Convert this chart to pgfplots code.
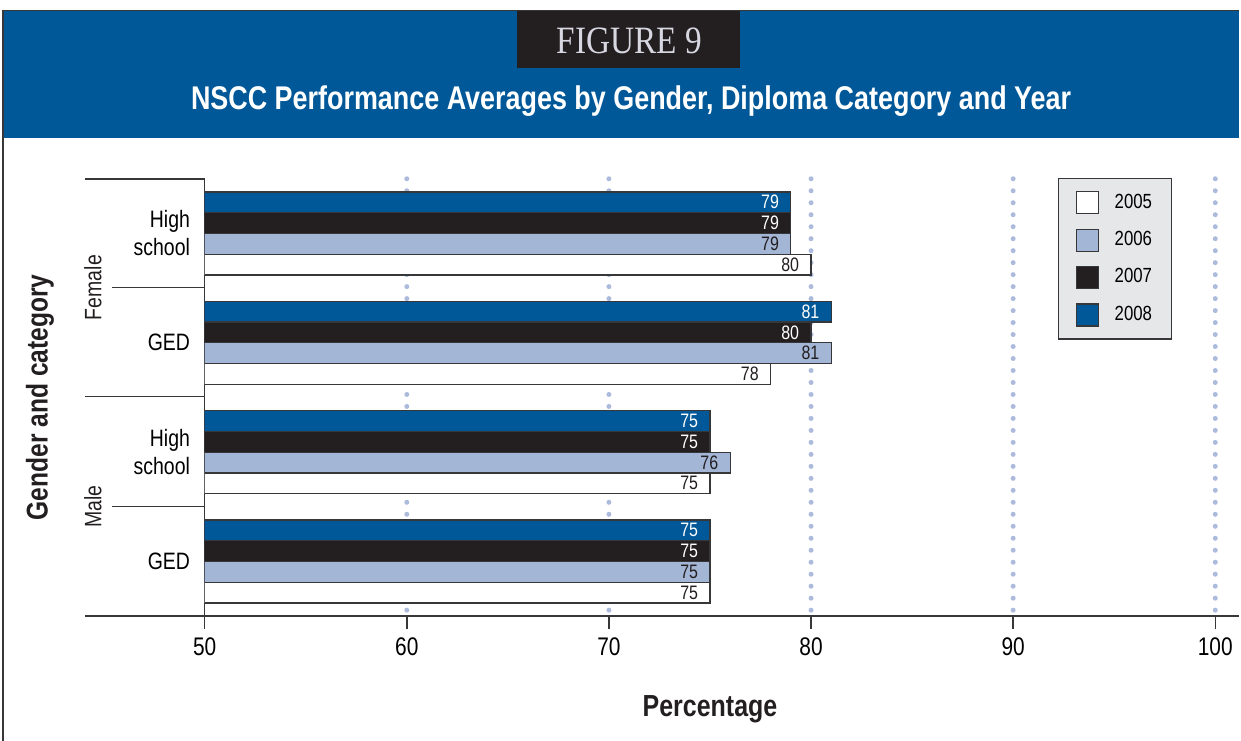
\documentclass[border=0pt]{standalone}
\usepackage{pgfplots}
\pgfplotsset{compat=1.18}
\usepackage{graphicx}
\usepackage{fontspec}
\setmainfont{Liberation Sans}[FakeStretch=0.82]
\newfontfamily\figfont{Liberation Serif}
\definecolor{hdrblue}{RGB}{0,88,152}
\definecolor{barblack}{RGB}{35,31,32}
\definecolor{barlight}{RGB}{164,182,214}
\definecolor{gridc}{RGB}{172,186,220}
\definecolor{legfill}{RGB}{230,231,233}
\definecolor{linec}{RGB}{55,55,58}
\definecolor{figtext}{RGB}{215,215,225}
\pgfplotsset{
  mybar/.style={xbar, bar width=0.19, bar shift=0pt, draw=linec, line width=0.5pt,
    point meta=x, nodes near coords,
    legend image code/.code={\draw[##1] (0pt,-4.4pt) rectangle (8.8pt,4.4pt);},
    every node near coord/.append style={anchor=east, xshift=-1.2pt, font=\fontsize{7.8}{9}\selectfont}},
}
\begin{document}
\begin{tikzpicture}
\begin{scope}[x=0.4pt,y=-0.4pt]
\useasboundingbox (0,0) rectangle (1241,742);
\fill[hdrblue] (3,11) rectangle (1241,138);
\draw[linec, line width=0.6pt] (3,742) -- (3,10.5) -- (1241,10.5);
\fill[barblack] (518,11) rectangle (741,68);
\node[text=figtext, font=\figfont\fontsize{15.5}{15.5}\selectfont] at (630,41) {\scalebox{0.86}[1]{FIGURE 9}};
\node[text=white, font=\bfseries\fontsize{13.15}{15}\selectfont] at (632,101) {NSCC Performance Averages by Gender, Diploma Category and Year};
\end{scope}

\begin{axis}[
  at={(82pt,-246.8pt)}, anchor=south west,
  scale only axis, width=404.8pt, height=175.2pt,
  xmin=50, xmax=100, ymin=-0.5, ymax=3.5, y dir=reverse,
  axis x line*=bottom, axis y line*=left,
  axis line style={draw=linec, line width=0.6pt},
  xtick={50,60,...,100},
  xtick align=outside, major tick length=5.2pt,
  xtick style={draw=linec, line width=0.6pt},
  ytick={0,1,2,3}, ytick style={draw=none},
  yticklabels={{High\\school},GED,{High\\school},GED},
  yticklabel style={align=right, font=\fontsize{9.5}{11.2}\selectfont, xshift=-2.4pt},
  xticklabel style={font=\fontsize{10.2}{12}\selectfont},
  /pgf/number format/assume math mode=true,
  extra x ticks={60,70,80,90,100},
  extra x tick labels={},
  extra x tick style={grid=major, major tick length=0pt},
  major grid style={draw=gridc, line width=2pt, line cap=round, dash pattern=on 0pt off 4.8pt},
  legend style={at={(0.8439,1.002)}, anchor=north west, draw=linec, line width=0.6pt,
    fill=legfill, font=\fontsize{8.2}{9}\selectfont, inner xsep=7.2pt, inner ysep=5.0pt,
    row sep=5.7pt, nodes={inner sep=0.5pt},
    /tikz/every odd column/.append style={column sep=5.6pt}},
  legend cell align=left,
]
\addplot[mybar, fill=white, every node near coord/.append style={text=barblack}]
  coordinates {(80,0.285) (78,1.285) (75,2.285) (75,3.285)};
\addlegendentry{2005}
\addplot[mybar, fill=barlight, every node near coord/.append style={text=barblack}]
  coordinates {(79,0.095) (81,1.095) (76,2.095) (75,3.095)};
\addlegendentry{2006}
\addplot[mybar, fill=barblack, every node near coord/.append style={text=white}]
  coordinates {(79,-0.095) (80,0.905) (75,1.905) (75,2.905)};
\addlegendentry{2007}
\addplot[mybar, fill=hdrblue, every node near coord/.append style={text=white}]
  coordinates {(79,-0.285) (81,0.715) (75,1.715) (75,2.715)};
\addlegendentry{2008}
\end{axis}

\begin{scope}[x=0.4pt,y=-0.4pt]
\draw[linec, line width=0.6pt] (85,617) -- (205,617);
\draw[linec, line width=0.6pt] (1217,617) -- (1241,617);
\draw[linec, line width=0.6pt] (85,179) -- (205,179);
\draw[linec, line width=0.6pt] (85,397) -- (205,397);
\draw[linec, line width=0.6pt] (112,288) -- (205,288);
\draw[linec, line width=0.6pt] (112,507) -- (205,507);
\node[rotate=90, text=barblack, font=\bfseries\fontsize{12}{14}\selectfont] at (40,398) {Gender and category};
\node[rotate=90, text=barblack, font=\fontsize{9.5}{11}\selectfont] at (93,288) {Female};
\node[rotate=90, text=barblack, font=\fontsize{9.5}{11}\selectfont] at (93,507) {Male};
\node[text=barblack, font=\bfseries\fontsize{12.2}{14}\selectfont] at (711,710) {Percentage};
\end{scope}
\end{tikzpicture}
\end{document}
